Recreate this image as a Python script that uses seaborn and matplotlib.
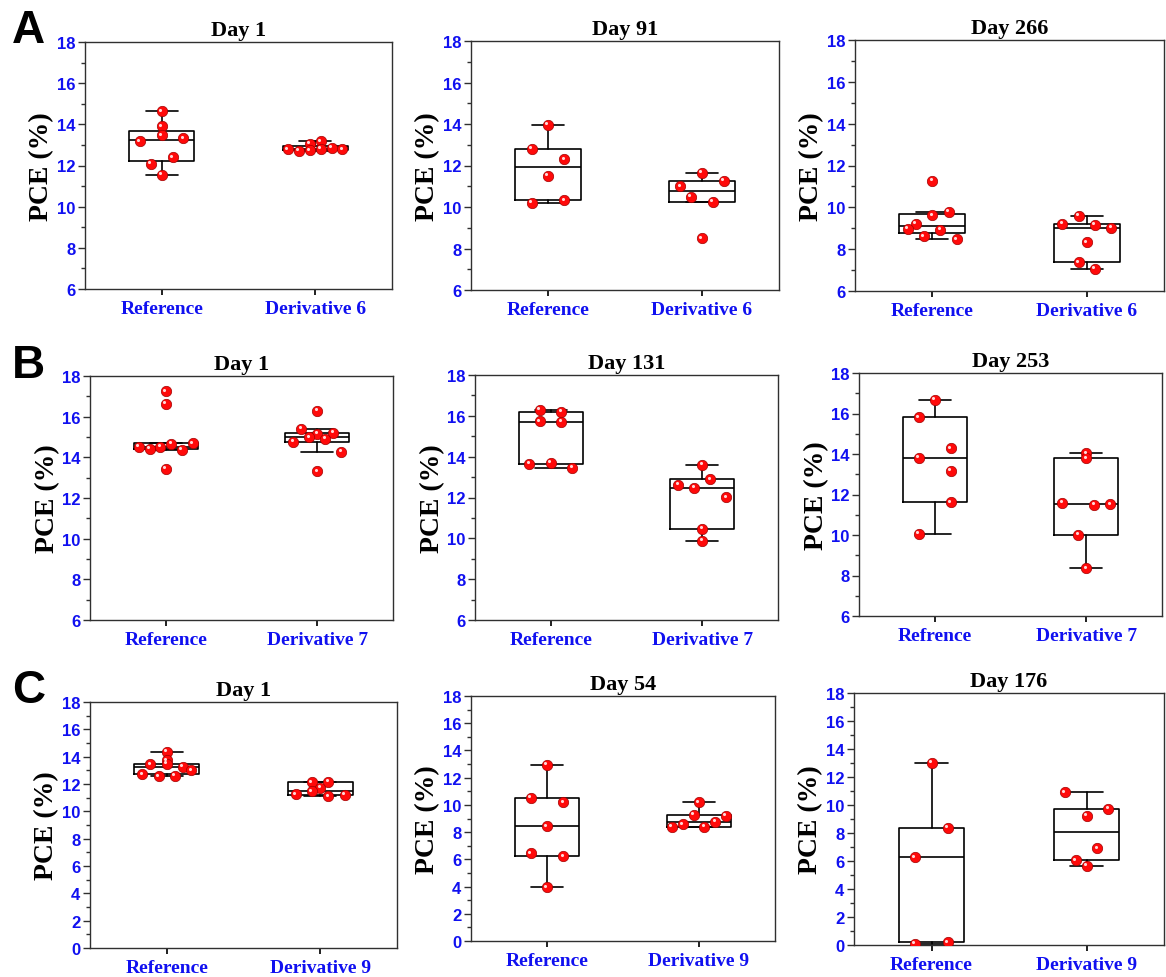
import numpy as np
import pandas as pd
import matplotlib
matplotlib.use("Agg")
import matplotlib.pyplot as plt
from matplotlib.ticker import MultipleLocator
from matplotlib.transforms import offset_copy
import seaborn as sns

# ---------------- data (PCE, %) ----------------
a_titles = ["Day 1", "Day 91", "Day 266"]
a_groups = ["Reference", "Derivative 6"]
a1_reference = [14.63, 13.90, 13.17, 13.46, 13.33, 12.08, 12.39, 11.55]
a1_derivative = [13.06, 13.17, 12.78, 12.70, 12.73, 12.81, 12.85, 12.78]
a2_reference = [13.97, 12.80, 12.30, 11.51, 10.21, 10.32]
a2_derivative = [11.00, 11.66, 11.27, 10.50, 10.24, 8.50]
a3_reference = [11.26, 9.21, 9.62, 9.78, 8.96, 8.61, 8.92, 8.48]
a3_derivative = [9.21, 9.59, 9.16, 9.03, 8.33, 7.38, 7.06]

b_titles = ["Day 1", "Day 131", "Day 253"]
b_groups = ["Reference", "Derivative 7"]
b3_groups = ["Refrence", "Derivative 7"]
b1_reference = [17.25, 16.64, 14.51, 14.41, 14.52, 14.67, 14.36, 14.70, 13.44]
b1_derivative = [16.28, 15.41, 15.16, 15.20, 14.75, 14.99, 14.92, 14.28, 13.31]
b2_reference = [16.30, 16.21, 15.74, 15.70, 13.64, 13.70, 13.46]
b2_derivative = [13.61, 12.62, 12.48, 12.89, 12.01, 10.48, 9.89]
b3_reference = [16.68, 15.81, 14.28, 13.80, 13.16, 10.05, 11.61]
b3_derivative = [14.03, 13.79, 11.60, 10.02, 11.50, 11.51, 8.35]

c_titles = ["Day 1", "Day 54", "Day 176"]
c_groups = ["Reference", "Derivative 9"]
c1_reference = [14.35, 13.74, 13.43, 13.48, 13.26, 12.72, 12.55, 12.60, 12.99]
c1_derivative = [12.11, 12.14, 11.72, 11.24, 11.48, 11.11, 11.21]
c2_reference = [12.94, 10.54, 10.20, 8.43, 6.44, 6.22, 3.96]
c2_derivative = [10.20, 8.40, 8.58, 9.29, 8.40, 8.75, 9.21]
c3_reference = [13.02, 6.27, 8.39, 0.07, 0.19]
c3_derivative = [10.92, 9.25, 9.75, 6.06, 6.92, 5.65]

# ---------------- styling ----------------
BLUE = "#1010f0"
SERIF = "Liberation Serif"
SANS = "Liberation Sans"
BOX_W = 0.425      # box width in category units
CAP_W = 0.21       # whisker cap width

sns.set_theme(style="ticks")
plt.rcParams["font.family"] = [SANS, "DejaVu Sans"]
plt.rcParams["axes.edgecolor"] = "#303030"
plt.rcParams["axes.linewidth"] = 1.0

fig = plt.figure(figsize=(11.66, 9.78), dpi=100)
FW, FH = 1166.0, 978.0


def add_axes_px(left, right, top, bottom):
    return fig.add_axes([left / FW, 1 - bottom / FH, (right - left) / FW, (bottom - top) / FH])


def box_stats(vals, whis=1.5):
    v = np.sort(np.asarray(vals, float))
    q1, med, q3 = np.percentile(v, [25, 50, 75], method="averaged_inverted_cdf")
    iqr = q3 - q1
    lo = v[v >= q1 - whis * iqr].min()
    hi = v[v <= q3 + whis * iqr].max()
    return dict(med=med, q1=q1, q3=q3, whislo=lo, whishi=hi, fliers=[])


def binned_offsets(vals, bin_width):
    """Spread points sharing a value bin evenly across the box width."""
    bins = np.floor(np.asarray(vals) / bin_width + 1e-9).astype(int)
    counts = pd.Series(bins).value_counts()
    k_max = counts.max()
    step = BOX_W / k_max
    seen = {}
    offs = []
    for b in bins:
        j = seen.get(b, 0)
        seen[b] = j + 1
        m = counts[b]
        offs.append((j - (m - 1) / 2.0) * step)
    return np.array(offs)


def panel(ax, title, groups, series, ymin, bin_width):
    frames = []
    for i, vals in enumerate(series):
        st = box_stats(vals)
        ax.bxp([st], positions=[i], widths=BOX_W, capwidths=CAP_W, showfliers=False,
               manage_ticks=False,
               boxprops=dict(color="black", lw=1.2),
               whiskerprops=dict(color="black", lw=1.2),
               capprops=dict(color="black", lw=1.2),
               medianprops=dict(color="black", lw=1.2))
        frames.append(pd.DataFrame({"pos": i + binned_offsets(vals, bin_width),
                                    "pce": vals}))
    df = pd.concat(frames, ignore_index=True)
    sns.scatterplot(data=df, x="pos", y="pce", ax=ax, color="#ff0a0a",
                    edgecolor="#a00000", linewidth=0.5, s=56, zorder=3, legend=False)
    sns.scatterplot(data=df, x="pos", y="pce", ax=ax, color="#ffd8d8",
                    linewidth=0, s=5, zorder=4, legend=False)
    hl = ax.collections[-1]
    hl.set_offset_transform(offset_copy(ax.transData, fig=fig, x=-1.6, y=1.6, units="dots"))

    ax.set_xlim(-0.5, 1.5)
    ax.set_ylim(ymin, 18)
    ax.set_xticks([0, 1])
    ax.set_xticklabels(groups, fontfamily=SERIF, fontweight="bold", fontsize=14, color=BLUE)
    ax.set_yticks(np.arange(ymin, 18.1, 2))
    ax.yaxis.set_minor_locator(MultipleLocator(1))
    for lab in ax.get_yticklabels():
        lab.set_fontfamily(SANS)
        lab.set_fontweight("bold")
        lab.set_fontsize(12)
        lab.set_color(BLUE)
    ax.tick_params(axis="y", which="major", direction="out", length=5, width=1.0,
                   color="#303030", pad=2, left=True)
    ax.tick_params(axis="y", which="minor", direction="out", length=3, width=1.0,
                   color="#303030", left=True)
    ax.tick_params(axis="x", which="major", direction="out", length=4, width=1.4,
                   color="#202020", pad=4, bottom=True)
    ax.tick_params(axis="x", which="minor", bottom=False)
    ax.set_xlabel("")
    ax.set_ylabel("PCE (%)", fontfamily=SERIF, fontweight="bold", fontsize=20, color="black")
    ax.yaxis.set_label_coords(-0.10, 0.5)
    ax.set_title(title, fontfamily=SERIF, fontweight="bold", fontsize=16, color="black", pad=5)
    ax.grid(False)
    for s in ax.spines.values():
        s.set_visible(True)
        s.set_color("#303030")
        s.set_linewidth(1.0)


# pixel frames of the nine panels: left, right, top, bottom
frames_px = [
    [(85, 392, 43, 290), (471, 779, 42, 291), (855, 1164, 41, 292)],
    [(90, 393, 377, 621), (475, 778, 376, 621), (859, 1162, 374, 617)],
    [(90, 397, 703, 949), (471, 775, 697, 942), (854, 1164, 694, 946)],
]

rows = [
    (a_titles, [a_groups] * 3,
     [(a1_reference, a1_derivative), (a2_reference, a2_derivative), (a3_reference, a3_derivative)],
     6, [0.5, 1.0, 1.0]),
    (b_titles, [b_groups, b_groups, b3_groups],
     [(b1_reference, b1_derivative), (b2_reference, b2_derivative), (b3_reference, b3_derivative)],
     6, [1.0, 1.0, 2.0]),
    (c_titles, [c_groups] * 3,
     [(c1_reference, c1_derivative), (c2_reference, c2_derivative), (c3_reference, c3_derivative)],
     0, [0.5, 2.0, 3.0]),
]

for r, (titles, glabels, pairs, ymin, bws) in enumerate(rows):
    for c in range(3):
        ax = add_axes_px(*frames_px[r][c])
        panel(ax, titles[c], glabels[c], pairs[c], ymin, bws[c])

for letter, base in [("A", 43), ("B", 378), ("C", 703)]:
    fig.text(12 / FW, 1 - base / FH, letter, fontfamily=SANS, fontweight="bold",
             fontsize=33, color="black", va="baseline", ha="left")

fig.savefig("out.png", dpi=100)
